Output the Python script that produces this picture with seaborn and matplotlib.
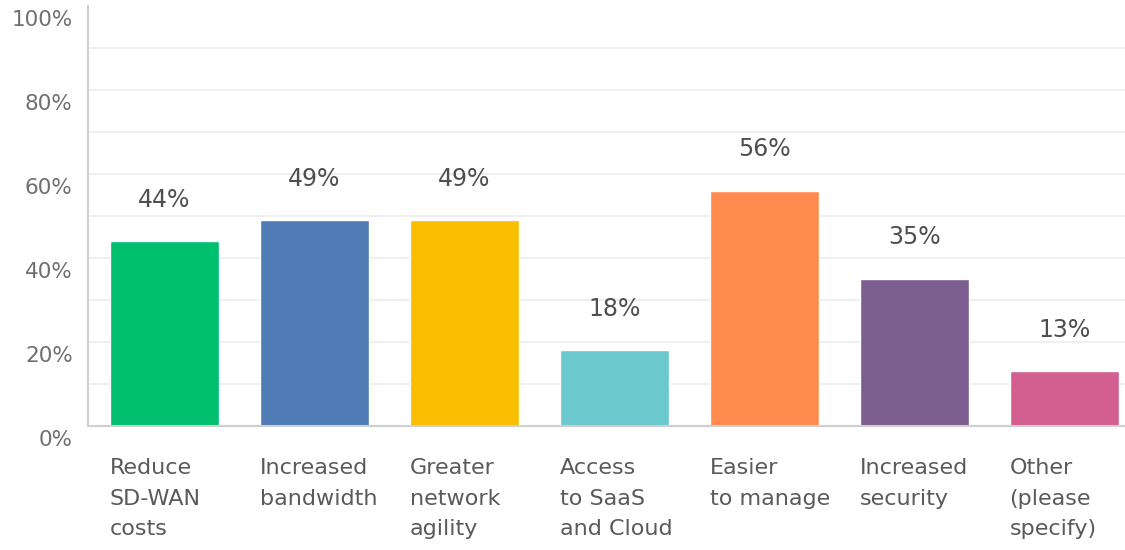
import numpy as np
import pandas as pd
import matplotlib
matplotlib.use('Agg')
import matplotlib.pyplot as plt
import seaborn as sns

categories = ['Reduce\nSD-WAN\ncosts', 'Increased\nbandwidth', 'Greater\nnetwork\nagility',
              'Access\nto SaaS\nand Cloud', 'Easier\nto manage', 'Increased\nsecurity',
              'Other\n(please\nspecify)']
values = [44, 49, 49, 18, 56, 35, 13]
colors = ['#00BF6F', '#507CB6', '#F9BE00', '#6BC8CD', '#FF8B4F', '#7D5E90', '#D25F90']
y_ticks = [0, 20, 40, 60, 80, 100]
grid_ticks = [10, 20, 30, 40, 50, 60, 70, 80, 90]

sns.set_style('white')
plt.rcParams['font.family'] = ['DejaVu Sans']

df = pd.DataFrame({'category': categories, 'value': values})

fig = plt.figure(figsize=(11.25, 5.5), dpi=100)
ax = fig.add_axes([88 / 1125, 124 / 550, 1 - 88 / 1125, (426 - 6) / 550])

sns.barplot(data=df, x='category', y='value', hue='category', palette=colors,
            legend=False, width=0.73, saturation=1, ax=ax)

ax.set_xlim(-0.51, 6.405)
ax.set_ylim(0, 100)

# light horizontal grid every 10%
for g in grid_ticks:
    ax.axhline(g, color='#ececec', linewidth=1.2, zorder=0)

# value labels above bars
for i, v in enumerate(values):
    ax.annotate(f'{v}%', (i, v), xytext=(0, 30), textcoords='offset points',
                ha='center', va='center', fontsize=17, color='#4f4f4f')

# y tick labels, drawn a little below their gridlines like the original
ax.set_yticks([])
ytrans = ax.get_yaxis_transform()
for t in y_ticks:
    ax.annotate(f'{t}%', (0, t), xycoords=ytrans, xytext=(-11, -10),
                textcoords='offset points', ha='right', va='center',
                fontsize=15.5, color='#6f6f6f', annotation_clip=False)

# x labels left-aligned at bar left edge
ax.set_xticks([i - 0.365 for i in range(len(categories))])
ax.set_xticklabels(categories, ha='left', fontsize=16, color='#5a5a5a', linespacing=1.66)
ax.tick_params(axis='x', length=0, pad=23)

ax.set_xlabel('')
ax.set_ylabel('')
for s in ['top', 'right']:
    ax.spines[s].set_visible(False)
for s in ['left', 'bottom']:
    ax.spines[s].set_color('#cfcfcf')
    ax.spines[s].set_linewidth(1.5)

fig.savefig('out.png', dpi=100)
